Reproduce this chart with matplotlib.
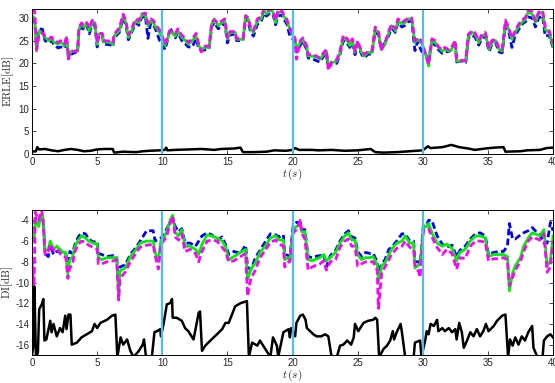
import matplotlib
matplotlib.use("Agg")
import matplotlib.pyplot as plt
import numpy as np

plt.rcParams["mathtext.fontset"] = "cm"
plt.rcParams["font.family"] = ["Liberation Sans", "DejaVu Sans"]
plt.rcParams["axes.unicode_minus"] = False

# ---------------- ERLE panel ----------------
t_erle = [0.0, 0.2, 0.35, 0.55, 0.8, 1.0, 1.3, 1.5, 1.7, 2.0, 2.2, 2.5, 2.65, 2.8, 2.9, 3.0, 3.5, 3.6,
          3.8, 4.0, 4.2, 4.4, 4.6, 4.8, 4.9, 5.0, 5.1, 5.4, 5.5, 6.0, 6.2, 6.3, 6.7, 7.0, 7.2, 7.4,
          7.6, 7.8, 8.0, 8.2, 8.4, 8.7, 8.9, 9.1, 9.3, 9.5, 9.8, 10.0, 10.2, 10.4, 10.6, 11.0, 11.2,
          11.5, 11.8, 12.0, 12.3, 12.6, 12.8, 13.0, 13.3, 13.6, 13.8, 14.0, 14.3, 14.6, 14.8, 15.0,
          15.2, 15.6, 15.7, 16.2, 16.4, 16.6, 16.8, 17.0, 17.3, 17.6, 17.8, 18.0, 18.3, 18.5, 18.7,
          18.9, 19.2, 19.3, 19.55, 19.8, 20.05, 20.2, 20.3, 20.6, 20.8, 21.1, 21.2, 21.5, 21.9, 22.1,
          22.4, 22.6, 22.75, 23.0, 23.4, 23.65, 23.9, 24.2, 24.4, 24.6, 24.8, 25.0, 25.3, 25.5, 25.8,
          26.1, 26.35, 26.6, 26.8, 27.1, 27.4, 27.6, 27.9, 28.1, 28.4, 28.65, 28.9, 29.15, 29.4, 29.6,
          29.9, 30.2, 30.45, 30.7, 30.95, 31.2, 31.5, 31.7, 32.0, 32.2, 32.5, 32.6, 32.9, 33.3, 33.5,
          33.8, 34.0, 34.3, 34.55, 34.8, 35.1, 35.3, 35.6, 35.85, 36.1, 36.35, 36.6, 36.85, 37.1,
          37.4, 37.6, 37.9, 38.1, 38.4, 38.65, 38.9, 39.2, 39.4, 39.7, 40.0]

erle_green = [30.5, 30.0, 22.7, 27.2, 26.5, 25.7, 25.0, 25.5, 24.6, 24.2, 24.7, 23.9, 25.7, 21.3, 22.0,
              22.7, 22.7, 27.5, 28.7, 28.0, 28.8, 27.2, 29.0, 29.0, 26.8, 24.2, 26.4, 26.4, 24.7, 24.6,
              24.2, 26.0, 27.2, 30.5, 29.0, 25.7, 26.8, 28.3, 29.4, 28.9, 30.5, 30.9, 28.3, 29.4, 29.0,
              28.0, 26.8, 25.7, 23.9, 25.3, 27.2, 26.0, 27.2, 25.7, 25.0, 24.2, 25.0, 26.0, 23.9, 23.1,
              23.5, 23.5, 28.7, 29.8, 28.3, 29.0, 29.4, 25.3, 26.8, 26.8, 25.3, 25.3, 30.5, 29.8, 27.5,
              26.8, 29.4, 29.8, 31.6, 30.9, 31.8, 31.3, 29.0, 31.3, 31.3, 30.5, 29.4, 27.5, 26.0, 25.0,
              23.1, 24.6, 25.3, 23.5, 21.6, 21.6, 21.3, 20.9, 22.0, 22.7, 19.8, 20.1, 20.5, 22.4, 25.7,
              25.0, 23.9, 25.0, 22.4, 24.6, 22.4, 21.6, 22.4, 22.4, 27.5, 26.8, 23.1, 24.2, 26.8, 28.3,
              27.2, 29.4, 28.7, 29.0, 29.8, 29.8, 24.6, 25.3, 24.6, 22.4, 19.4, 25.0, 24.6, 23.5, 22.7,
              23.1, 22.7, 23.1, 24.6, 20.5, 20.5, 20.5, 26.0, 26.8, 26.4, 24.6, 26.0, 26.4, 23.1, 24.6,
              25.0, 23.1, 22.7, 29.0, 27.5, 25.3, 26.8, 28.3, 29.0, 29.8, 31.3, 30.9, 29.0, 30.9, 31.3,
              27.5, 26.8, 23.9]

erle_blue = [30.0, 29.5, 23.5, 27.6, 27.5, 25.0, 24.5, 25.0, 24.0, 23.4, 23.6, 23.3, 25.0, 21.0, 21.5,
             22.0, 22.6, 27.0, 28.0, 27.4, 28.3, 26.5, 28.5, 28.6, 26.4, 23.6, 25.8, 26.2, 24.2, 24.1,
             23.6, 25.6, 26.8, 30.0, 28.5, 25.2, 26.5, 27.8, 29.0, 28.4, 30.0, 30.5, 25.5, 28.8, 28.6,
             27.4, 25.0, 24.5, 23.0, 25.0, 27.8, 25.6, 26.8, 25.0, 24.2, 23.6, 23.6, 25.5, 23.2, 22.8,
             23.0, 23.2, 28.2, 29.0, 27.6, 28.4, 28.8, 24.5, 26.2, 26.5, 25.0, 25.0, 30.0, 29.0, 26.8,
             26.0, 28.6, 29.2, 31.0, 30.4, 31.2, 30.8, 28.5, 30.5, 30.6, 29.8, 28.8, 26.0, 25.3, 24.5,
             22.5, 24.0, 24.8, 23.0, 21.2, 21.0, 20.5, 20.3, 21.6, 22.0, 19.0, 19.8, 20.0, 22.0, 25.0,
             24.4, 23.5, 24.6, 21.9, 24.2, 22.0, 21.2, 22.0, 22.0, 27.0, 26.2, 23.5, 24.5, 26.2, 27.8,
             26.8, 29.0, 28.0, 28.4, 29.2, 29.4, 22.8, 24.8, 22.7, 22.0, 21.0, 24.5, 24.0, 23.0, 22.2,
             22.5, 22.6, 23.0, 24.2, 20.3, 20.5, 20.2, 25.6, 26.2, 25.8, 24.0, 25.6, 26.0, 22.6, 24.2,
             24.5, 22.5, 22.3, 28.4, 27.0, 23.5, 26.2, 27.6, 28.6, 29.2, 30.2, 30.0, 28.0, 30.0, 30.5,
             26.0, 26.2, 23.5]

erle_magenta = [32.0, 31.5, 23.0, 26.5, 26.8, 26.0, 25.5, 25.8, 25.0, 24.6, 25.0, 24.3, 26.0, 21.0,
                22.3, 22.5, 22.8, 27.8, 28.9, 28.4, 29.0, 27.8, 29.4, 29.5, 27.2, 24.6, 26.6, 26.6,
                25.0, 24.9, 24.5, 26.4, 27.8, 30.8, 29.4, 26.3, 27.2, 28.8, 29.8, 29.4, 30.8, 31.1,
                28.8, 29.8, 29.5, 28.6, 27.3, 26.0, 24.2, 25.8, 27.2, 26.6, 27.6, 26.2, 25.4, 24.6,
                25.4, 26.6, 24.2, 22.5, 23.8, 23.8, 29.2, 29.5, 28.8, 29.4, 29.8, 25.6, 27.0, 27.0,
                25.5, 25.5, 30.5, 30.0, 27.8, 27.2, 29.8, 30.2, 32.0, 31.5, 32.0, 31.6, 29.5, 31.8,
                31.5, 30.8, 29.8, 27.8, 26.3, 25.5, 20.9, 25.0, 25.6, 23.8, 21.9, 22.0, 21.5, 21.2,
                22.4, 23.0, 18.5, 20.3, 20.8, 22.8, 26.2, 25.4, 24.4, 25.4, 22.6, 25.0, 22.6, 22.0,
                22.6, 22.8, 28.0, 27.0, 22.8, 24.5, 27.2, 28.6, 27.6, 29.8, 29.0, 29.5, 30.0, 30.0,
                25.0, 25.6, 25.0, 22.0, 19.8, 25.4, 25.0, 23.6, 23.0, 23.5, 23.0, 23.5, 25.0, 20.8,
                20.6, 20.6, 26.4, 27.2, 26.8, 25.0, 26.4, 26.8, 23.5, 25.0, 25.3, 23.4, 23.0, 29.5,
                27.8, 25.6, 27.2, 28.8, 29.4, 30.2, 31.8, 31.4, 29.4, 31.3, 31.6, 28.0, 27.2, 24.5]

t_erle_ref = [0.0, 0.3, 0.4, 0.55, 1.0, 1.5, 2.0, 2.5, 3.0, 3.5, 4.0, 4.5, 5.0, 5.5, 6.2, 6.3, 7.0,
              8.0, 8.5, 9.0, 9.8, 10.2, 10.3, 10.4, 11.0, 12.0, 13.0, 14.0, 14.5, 15.5, 16.0, 16.2,
              17.0, 18.0, 18.6, 19.5, 20.0, 20.2, 20.5, 21.5, 22.0, 23.0, 24.0, 25.0, 26.0, 26.35,
              27.0, 28.0, 29.0, 30.0, 30.4, 30.6, 31.5, 32.2, 32.8, 33.5, 34.0, 34.8, 35.5, 36.2,
              36.35, 37.5, 38.0, 39.0, 39.5, 40.0]
erle_ref = [0.5, 0.6, 1.5, 1.0, 1.1, 0.8, 0.6, 0.9, 1.1, 0.9, 0.6, 0.7, 1.0, 1.1, 1.1, 0.3, 0.5,
            0.4, 0.6, 0.7, 0.8, 0.9, 1.4, 0.8, 0.9, 1.0, 1.1, 0.9, 1.1, 1.2, 1.4, 0.4, 0.4, 0.5,
            0.8, 0.7, 0.9, 1.3, 0.9, 0.9, 0.8, 0.9, 0.7, 0.8, 1.1, 0.4, 0.3, 0.4, 0.6, 0.8, 1.7,
            1.3, 1.5, 2.0, 1.5, 1.2, 0.9, 1.2, 1.4, 1.5, 0.5, 0.6, 0.8, 0.9, 1.3, 1.4]

# ---------------- DI panel ----------------
t_di = [0.0, 0.15, 0.25, 0.5, 0.75, 0.87, 1.0, 1.25, 1.4, 1.65, 1.9, 2.15, 2.4, 2.6, 2.75, 2.9, 3.1,
        3.3, 3.55, 3.8, 4.1, 4.35, 4.7, 5.0, 5.1, 5.35, 5.75, 6.25, 6.5, 6.65, 6.75, 7.15, 7.55, 8.05,
        8.3, 8.8, 9.3, 9.45, 9.7, 9.9, 10.1, 10.35, 10.6, 10.8, 11.0, 11.25, 11.5, 11.75, 12.15,
        12.55, 12.8, 13.05, 13.45, 13.8, 14.2, 14.6, 14.85, 15.1, 15.5, 16.0, 16.4, 16.55, 16.8,
        17.15, 17.5, 17.9, 18.3, 18.7, 19.0, 19.3, 19.4, 19.7, 19.8, 20.05, 20.3, 20.6, 20.7, 20.95,
        21.2, 21.5, 21.7, 22.1, 22.4, 22.6, 22.9, 23.3, 23.65, 24.0, 24.3, 24.55, 24.8, 25.0, 25.3,
        25.6, 25.95, 26.2, 26.5, 26.6, 26.85, 27.1, 27.4, 27.6, 28.0, 28.4, 28.65, 29.0, 29.3, 29.4,
        29.7, 29.8, 30.05, 30.3, 30.45, 30.7, 31.1, 31.5, 31.85, 32.25, 32.6, 32.85, 33.25, 33.65,
        34.05, 34.4, 34.8, 35.05, 35.45, 35.85, 36.2, 36.5, 36.65, 36.9, 37.1, 37.5, 37.75, 38.1,
        38.4, 38.8, 39.0, 39.3, 39.55, 39.8, 40.0]

di_green = [-5.0, -6.0, -4.0, -4.6, -3.3, -4.0, -7.0, -6.8, -6.0, -6.8, -6.5, -6.8, -7.1, -7.1, -9.2,
            -7.8, -7.6, -6.5, -5.9, -5.5, -5.7, -6.0, -6.2, -6.3, -7.6, -7.8, -7.6, -7.6, -7.6, -11.3,
            -8.9, -8.6, -7.5, -6.7, -6.2, -6.0, -6.0, -7.1, -7.9, -5.9, -5.7, -5.1, -4.0, -3.5, -5.2,
            -5.5, -4.9, -6.5, -6.5, -6.8, -7.3, -6.3, -5.4, -5.5, -5.7, -6.0, -6.5, -7.8, -7.5, -7.1,
            -6.8, -9.7, -8.7, -8.1, -7.1, -6.5, -5.7, -5.5, -5.9, -5.9, -7.8, -7.6, -7.9, -4.9, -4.6,
            -4.4, -5.1, -5.1, -7.8, -7.9, -7.8, -7.6, -7.3, -7.9, -7.6, -7.1, -6.2, -5.5, -5.2, -5.9,
            -5.9, -7.3, -7.8, -7.6, -7.6, -7.5, -8.3, -9.9, -8.4, -8.1, -7.3, -6.8, -6.2, -6.0, -5.5,
            -6.2, -6.2, -8.6, -8.3, -8.3, -4.7, -4.6, -4.3, -5.2, -6.2, -6.5, -6.3, -6.7, -7.9, -7.1,
            -6.8, -6.0, -5.5, -5.5, -5.7, -7.5, -7.3, -7.3, -7.3, -7.5, -10.8, -9.1, -8.4, -7.6, -6.5,
            -5.7, -5.2, -5.4, -5.5, -4.9, -8.4, -7.9, -5.5]

di_blue = [-4.8, -5.0, -3.8, -4.3, -3.5, -4.2, -7.2, -7.5, -6.3, -7.3, -7.0, -7.0, -7.2, -7.2, -8.6,
           -7.0, -7.2, -6.3, -5.6, -5.2, -5.3, -5.8, -6.1, -6.0, -7.2, -7.3, -7.5, -7.4, -7.5, -10.0,
           -8.5, -8.3, -7.3, -6.5, -6.0, -5.0, -5.0, -6.0, -5.8, -5.7, -5.5, -4.8, -4.2, -3.8, -4.6,
           -5.1, -4.8, -6.2, -6.2, -6.5, -6.0, -5.5, -5.2, -5.4, -5.9, -5.6, -6.3, -7.3, -7.0, -7.2,
           -6.4, -8.5, -8.8, -7.6, -6.9, -6.1, -5.3, -5.4, -5.6, -5.4, -7.3, -7.4, -7.5, -4.5, -4.2,
           -4.2, -4.9, -4.9, -7.5, -7.6, -7.5, -7.4, -7.3, -8.5, -7.4, -6.9, -6.0, -5.3, -5.0, -5.6,
           -5.7, -7.0, -7.5, -7.1, -7.2, -7.2, -8.0, -9.0, -8.2, -7.8, -6.8, -6.6, -6.0, -5.3, -5.3,
           -6.0, -6.0, -8.0, -8.0, -8.2, -4.4, -4.4, -4.0, -4.0, -5.5, -6.3, -6.6, -6.4, -7.5, -6.9,
           -6.5, -5.8, -5.3, -5.2, -5.5, -7.3, -7.1, -7.0, -7.0, -6.5, -4.3, -5.8, -5.8, -5.4, -5.2,
           -5.0, -4.7, -5.2, -5.4, -6.2, -6.2, -4.2, -5.0]

di_magenta = [-8.0, -10.5, -3.2, -4.0, -3.0, -4.5, -7.3, -7.0, -6.3, -6.9, -6.7, -7.2, -7.5, -7.6,
              -9.6, -8.6, -8.3, -7.0, -6.3, -6.0, -6.1, -6.4, -6.6, -6.8, -8.2, -8.2, -8.0, -7.9,
              -7.8, -11.7, -9.6, -9.0, -8.0, -7.0, -6.6, -6.4, -6.3, -7.4, -8.7, -6.3, -6.0, -5.5,
              -4.3, -3.6, -5.6, -5.9, -5.3, -7.0, -6.8, -7.2, -8.0, -7.0, -6.0, -5.9, -6.0, -6.6,
              -7.0, -8.0, -7.9, -7.5, -7.2, -11.3, -9.6, -8.8, -7.6, -6.9, -6.1, -5.9, -6.3, -6.5,
              -8.5, -8.0, -8.0, -5.2, -4.9, -4.0, -5.2, -5.8, -8.8, -8.5, -8.4, -8.2, -7.9, -8.8,
              -8.0, -7.8, -6.6, -6.0, -5.8, -6.5, -6.5, -8.4, -8.2, -8.0, -8.0, -8.0, -8.8, -12.5,
              -9.0, -8.5, -7.8, -7.3, -6.7, -6.5, -6.0, -6.6, -6.8, -8.3, -9.0, -9.5, -5.0, -4.8,
              -4.8, -5.6, -6.6, -7.3, -6.8, -7.2, -8.7, -7.6, -7.7, -6.5, -6.0, -6.0, -6.1, -7.9,
              -7.7, -7.7, -7.6, -7.8, -10.3, -9.5, -8.8, -8.0, -7.0, -6.0, -5.6, -5.8, -5.9, -5.3,
              -9.0, -8.5, -6.0]

t_di_ref = [0.0, 0.1, 0.18, 0.3, 0.45, 0.55, 0.75, 0.87, 0.95, 1.1, 1.4, 1.5, 1.65, 1.9, 2.15, 2.35,
            2.55, 2.65, 2.8, 2.95, 3.05, 3.45, 3.8, 4.2, 4.6, 4.8, 5.0, 5.25, 5.75, 6.15, 6.4, 6.55,
            6.8, 7.0, 7.3, 7.55, 7.8, 8.2, 8.5, 8.6, 8.75, 9.2, 9.4, 9.6, 9.85, 9.9, 10.1, 10.35,
            10.6, 10.75, 10.8, 11.1, 11.5, 11.75, 12.0, 12.4, 12.8, 12.9, 13.05, 13.3, 13.7, 14.2,
            14.6, 14.85, 15.1, 15.35, 15.6, 16.0, 16.5, 16.65, 16.9, 17.3, 17.5, 17.9, 18.3, 18.5,
            18.8, 18.9, 19.3, 19.7, 19.8, 19.9, 20.2, 20.3, 20.6, 20.8, 21.0, 21.1, 21.35, 21.6,
            21.85, 22.2, 22.5, 22.75, 23.0, 23.4, 23.65, 23.9, 24.2, 24.5, 24.7, 24.8, 25.05, 25.45,
            25.8, 26.2, 26.35, 26.5, 26.65, 27.0, 27.25, 27.5, 27.7, 27.8, 28.0, 28.3, 28.4, 28.65,
            29.3, 29.4, 29.8, 29.9, 30.2, 30.3, 30.45, 30.6, 30.85, 31.1, 31.2, 31.5, 31.7, 32.0,
            32.25, 32.5, 32.6, 32.8, 33.0, 33.15, 33.4, 33.65, 33.9, 34.15, 34.4, 34.65, 34.85,
            35.05, 35.45, 35.7, 36.1, 36.35, 36.55, 36.7, 36.9, 37.1, 37.35, 37.6, 37.85, 38.1,
            38.4, 38.5, 38.8, 39.2, 39.3, 39.55, 39.8, 40.0]
di_ref = [-17.0, -16.1, -10.4, -17.2, -16.8, -12.6, -12.1, -11.6, -15.6, -15.5, -13.7, -14.8, -14.0,
          -15.2, -14.4, -14.8, -13.2, -14.5, -13.1, -13.1, -16.0, -15.8, -15.3, -15.0, -14.7, -14.0,
          -14.4, -13.9, -13.6, -13.2, -13.1, -17.2, -15.3, -16.0, -15.5, -16.6, -17.2, -16.6, -16.0,
          -15.5, -17.2, -17.2, -14.8, -14.7, -14.5, -15.2, -14.0, -12.1, -12.0, -11.6, -13.4, -13.4,
          -13.7, -14.4, -14.7, -15.5, -12.9, -12.8, -16.6, -16.1, -15.6, -15.0, -14.5, -13.9, -13.9,
          -13.1, -12.3, -12.0, -11.8, -17.2, -15.8, -16.1, -15.6, -16.4, -17.2, -15.3, -16.1, -17.2,
          -14.8, -14.5, -15.3, -14.4, -15.2, -13.9, -13.2, -13.1, -13.6, -14.4, -14.7, -15.0, -15.2,
          -15.2, -15.0, -15.2, -17.2, -17.2, -16.1, -16.0, -15.6, -16.0, -15.3, -14.0, -14.7, -13.9,
          -13.7, -13.6, -13.4, -13.6, -17.2, -16.4, -16.1, -15.6, -14.7, -15.5, -14.8, -14.0, -14.8,
          -17.2, -17.2, -15.8, -15.6, -17.2, -15.5, -14.7, -15.0, -14.0, -14.2, -13.6, -14.7, -14.4,
          -14.7, -14.4, -14.8, -14.5, -15.5, -13.9, -14.8, -16.3, -15.6, -14.8, -15.2, -14.5, -15.2,
          -14.7, -14.0, -14.7, -14.2, -13.7, -13.2, -13.1, -17.2, -15.5, -16.1, -15.3, -16.0, -15.2,
          -15.6, -14.8, -14.2, -16.3, -17.2, -17.2, -15.6, -15.2, -15.0, -15.3]

event_times = [10, 20, 30]

C_BLUE = "#0000FF"
C_MAG = "#FF00FF"
C_GREEN = "#00F000"
C_EVENT = "#4DBEEE"
TICK_COLOR = "#262626"

fig = plt.figure(figsize=(5.55, 3.83), dpi=100)
ax1 = fig.add_axes([0.0577, 0.598, 0.9387, 0.3788])
ax2 = fig.add_axes([0.0577, 0.0731, 0.9387, 0.3786])


def draw_panel(ax, t, blue, green, magenta, t_ref, ref):
    ax.plot(t, blue, color=C_BLUE, lw=2.0, dashes=(2.4, 1.2))
    ax.plot(t, green, color=C_GREEN, lw=2.0)
    ax.plot(t, magenta, color=C_MAG, lw=2.0, dashes=(2.4, 1.2))
    ax.plot(t_ref, ref, color="black", lw=1.8)
    for x in event_times:
        ax.axvline(x, color=C_EVENT, lw=1.6)
    ax.set_xlim(0, 40)
    ax.set_xticks(np.arange(0, 41, 5))
    ax.tick_params(direction="in", length=3, width=0.6, top=True, right=True,
                   labelsize=7, colors=TICK_COLOR, pad=2)
    for sp in ax.spines.values():
        sp.set_linewidth(0.7)
        sp.set_color("black")
    ax.set_xlabel(r"$t\,(s)$", fontsize=8, labelpad=0, color=TICK_COLOR)


draw_panel(ax1, t_erle, erle_blue, erle_green, erle_magenta, t_erle_ref, erle_ref)
ax1.set_ylim(0, 32)
ax1.set_yticks(np.arange(0, 31, 5))
ax1.set_ylabel(r"$\mathrm{ERLE[dB]}$", fontsize=8, color=TICK_COLOR)
ax1.yaxis.set_label_coords(-0.031, 0.5)

draw_panel(ax2, t_di, di_blue, di_green, di_magenta, t_di_ref, di_ref)
ax2.set_ylim(-17, -3)
ax2.set_yticks(np.arange(-16, -3, 2))
ax2.set_ylabel(r"$\mathrm{DI[dB]}$", fontsize=8, color=TICK_COLOR)
ax2.yaxis.set_label_coords(-0.033, 0.5)

fig.savefig("out.png", dpi=100)
